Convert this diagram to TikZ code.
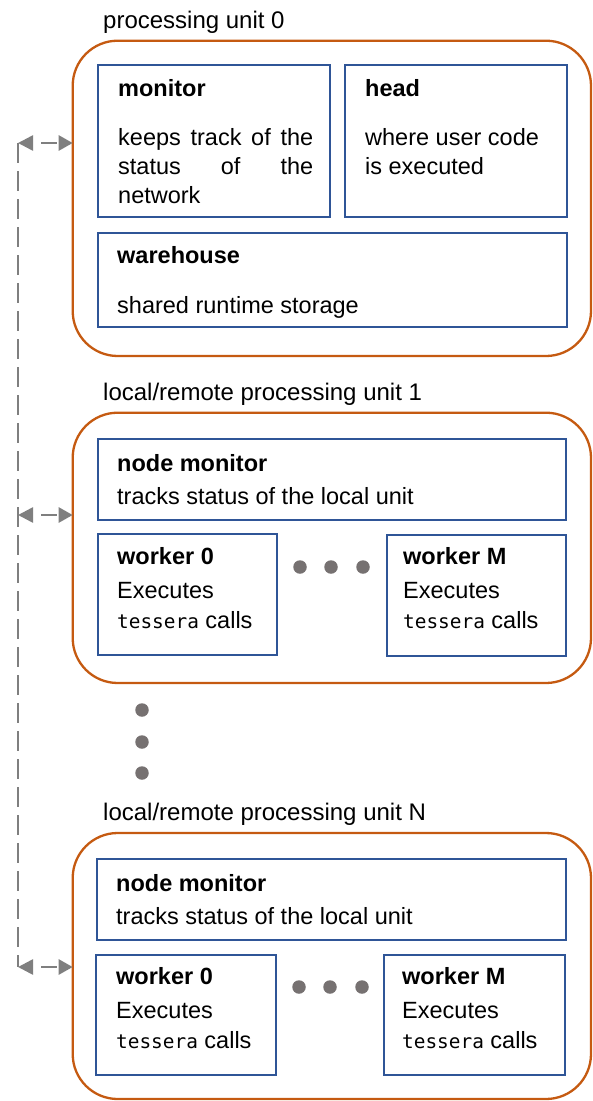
\documentclass[tikz,border=0pt]{standalone}
\usepackage{fontspec}
\setmainfont{Liberation Sans}
\newfontfamily\monofont{DejaVu Sans Mono}
\usetikzlibrary{arrows.meta}
\definecolor{puorange}{HTML}{C55A11}
\definecolor{boxblue}{HTML}{2F5597}
\definecolor{arrowgrey}{HTML}{7F7F7F}
\definecolor{dotgrey}{HTML}{767171}
\newcommand{\tess}{{\monofont\fontsize{19.4}{24}\selectfont tessera}}
\begin{document}
\begin{tikzpicture}[x=1pt,y=-1pt,
  pubox/.style={draw=puorange, line width=2.3pt, rounded corners=45pt, minimum width=518.3pt, anchor=north west, inner sep=0pt, outer sep=0pt},
  inbox/.style={draw=boxblue, line width=2pt, anchor=north west, inner sep=0pt, outer sep=0pt},
  lbl/.style={anchor=base west, inner sep=0pt, font=\fontsize{23.5}{28}\selectfont},
  hd/.style={lbl, font=\fontsize{23.5}{28}\selectfont\bfseries},
  ttl/.style={lbl, font=\fontsize{24}{28}\selectfont},
  busarrow/.style={draw=arrowgrey, line width=2.6pt, dash pattern=on 16pt off 9pt, dash phase=16pt, {Triangle[length=15pt,width=15pt]}-{Triangle[length=14pt,width=15pt]}},
  busline/.style={draw=arrowgrey, line width=2.2pt, dash pattern=on 20pt off 8pt},
  dotnode/.style={circle, fill=dotgrey, minimum size=13.5pt, inner sep=0pt}
]
\useasboundingbox (0,0) rectangle (593,1101);

% ---------- processing unit 0 ----------
\node[ttl] (t0) at (103,28) {processing unit 0};
\node[pubox, minimum height=315.3pt] (pu0) at (72.7,40.7) {};
\node[inbox, minimum width=232pt, minimum height=152pt] (mon) at (98,65) {};
\node[inbox, minimum width=221.5pt, minimum height=152pt] (head) at (345,65) {};
\node[inbox, minimum width=468.5pt, minimum height=94pt] (wh) at (98,232.5) {};
\node[hd] (monT) at (118,96) {monitor};
\node[lbl] (monA) at (118,145) {\makebox[195pt][s]{keeps track of the}};
\node[lbl] (monB) at (118,174) {\makebox[195pt][s]{status of the}};
\node[lbl] (monC) at (118,203) {network};
\node[hd] (headT) at (365,96) {head};
\node[lbl] (headA) at (365,145) {where user code};
\node[lbl] (headB) at (365,174) {is executed};
\node[hd] (whT) at (117,263) {warehouse};
\node[lbl] (whA) at (117,313) {shared runtime storage};

% ---------- processing unit 1 ----------
\node[ttl] (t1) at (103,400) {local/remote processing unit 1};
\node[pubox, minimum height=270.3pt] (pu1) at (72.7,412.7) {};
\node[inbox, minimum width=468pt, minimum height=81pt] (nm1) at (98,439) {};
\node[hd] (nm1T) at (117,471) {node monitor};
\node[lbl] (nm1A) at (117,504) {tracks status of the local unit};
\node[inbox, minimum width=179pt, minimum height=121pt] (w01) at (98,534) {};
\node[inbox, minimum width=179.5pt, minimum height=121pt] (wM1) at (386.5,534.5) {};
\node[hd] (w01T) at (117,564) {worker 0};
\node[lbl] (w01A) at (117,598) {Executes};
\node[lbl] (w01B) at (117,628) {\tess{} calls};
\node[hd] (wM1T) at (403,564) {worker M};
\node[lbl] (wM1A) at (403,598) {Executes};
\node[lbl] (wM1B) at (403,628) {\tess{} calls};
\node[dotnode] (d1a) at (300,567) {};
\node[dotnode] (d1b) at (331,567) {};
\node[dotnode] (d1c) at (363,567) {};

% ---------- vertical ellipsis ----------
\node[dotnode] (va) at (142,710) {};
\node[dotnode] (vb) at (142,742) {};
\node[dotnode] (vc) at (142,773) {};

% ---------- processing unit N ----------
\node[ttl] (tN) at (103,820) {local/remote processing unit N};
\node[pubox, minimum height=266pt] (puN) at (72.7,833) {};
\node[inbox, minimum width=469pt, minimum height=81pt] (nmN) at (97,859) {};
\node[hd] (nmNT) at (116,891) {node monitor};
\node[lbl] (nmNA) at (116,924) {tracks status of the local unit};
\node[inbox, minimum width=180pt, minimum height=120pt] (w0N) at (96,955) {};
\node[inbox, minimum width=181pt, minimum height=120pt] (wMN) at (384,955) {};
\node[hd] (w0NT) at (116,984) {worker 0};
\node[lbl] (w0NA) at (116,1018) {Executes};
\node[lbl] (w0NB) at (116,1048) {\tess{} calls};
\node[hd] (wMNT) at (402,984) {worker M};
\node[lbl] (wMNA) at (402,1018) {Executes};
\node[lbl] (wMNB) at (402,1048) {\tess{} calls};
\node[dotnode] (dNa) at (299,987) {};
\node[dotnode] (dNb) at (330,987) {};
\node[dotnode] (dNc) at (362,987) {};

% ---------- connection bus ----------
\coordinate (b0) at (18,143);
\coordinate (b1) at (18,515);
\coordinate (bN) at (18,967);
\draw[busline] (b0) -- (bN);
\draw[busarrow] (b0) -- (b0 -| pu0.west);
\draw[busarrow] (b1) -- (b1 -| pu1.west);
\draw[busarrow] (bN) -- (bN -| puN.west);
\end{tikzpicture}
\end{document}
